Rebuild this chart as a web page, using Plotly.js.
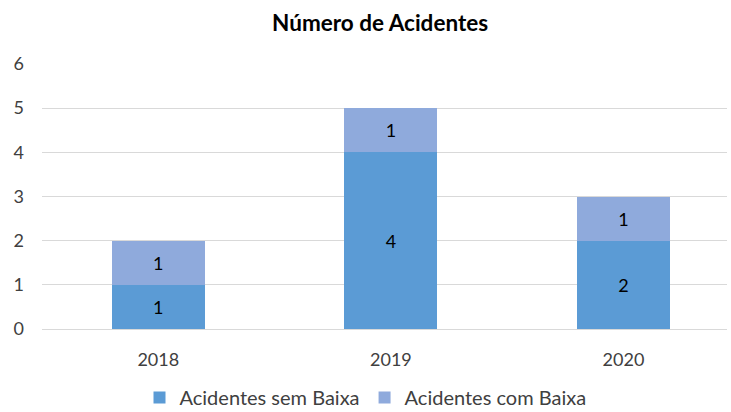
<!DOCTYPE html>
<html><head><meta charset="utf-8">
<script src="https://cdn.plot.ly/plotly-3.0.1.min.js"></script>
<style>html,body{margin:0;padding:0;background:#fff}#c{width:731px;height:412px}</style>
</head><body><div id="c"></div>
<script>
const categories = ["2018", "2019", "2020"];
const semBaixa = [1, 4, 2];
const comBaixa = [1, 1, 1];
const seriesNames = ["Acidentes sem Baixa", "Acidentes com Baixa"];
const yTicks = [0, 1, 2, 3, 4, 5, 6];

const FONT = "Lato, 'Open Sans', sans-serif";
const traces = [
  {type: "bar", name: seriesNames[0], x: categories, y: semBaixa,
   marker: {color: "#5B9BD5"}, text: semBaixa.map(String), textposition: "inside",
   insidetextanchor: "middle", textfont: {family: FONT, size: 18, color: "#000"}, width: 0.4},
  {type: "bar", name: seriesNames[1], x: categories, y: comBaixa,
   marker: {color: "#8FAADC"}, text: comBaixa.map(String), textposition: "inside",
   insidetextanchor: "middle", textfont: {family: FONT, size: 18, color: "#000"}, width: 0.4}
];
const layout = {
  width: 731, height: 412, barmode: "stack",
  paper_bgcolor: "#fff", plot_bgcolor: "#fff",
  margin: {l: 42, r: 4, t: 64, b: 83},
  font: {family: FONT, size: 18, color: "#404040"},
  title: {text: "<b>Número de Acidentes</b>", x: 0.52, xanchor: "center", y: 0.945, yanchor: "middle",
          font: {family: FONT, size: 22.5, color: "#000"}},
  xaxis: {type: "category", range: [-0.5, 2.445], showgrid: false, zeroline: false, showline: false,
          ticks: "", ticklabelstandoff: 18, tickfont: {size: 18, color: "#404040"}, fixedrange: true},
  yaxis: {range: [0, 6], tickvals: yTicks, showgrid: true, gridcolor: "#d9d9d9", gridwidth: 1,
          zeroline: true, zerolinecolor: "#d9d9d9", showline: false, ticks: "",
          ticklabelstandoff: 17,
          tickfont: {size: 18, color: "#404040"}, fixedrange: true},
  showlegend: true,
  legend: {orientation: "h", x: 0.5, xanchor: "center", xref: "container",
           y: 0.035, yanchor: "middle", yref: "container",
           font: {size: 20, color: "#404040"}, itemwidth: 30, traceorder: "normal"},
  bargap: 0.6
};
Plotly.newPlot("c", traces, layout, {staticPlot: true, displayModeBar: false});
</script></body></html>
